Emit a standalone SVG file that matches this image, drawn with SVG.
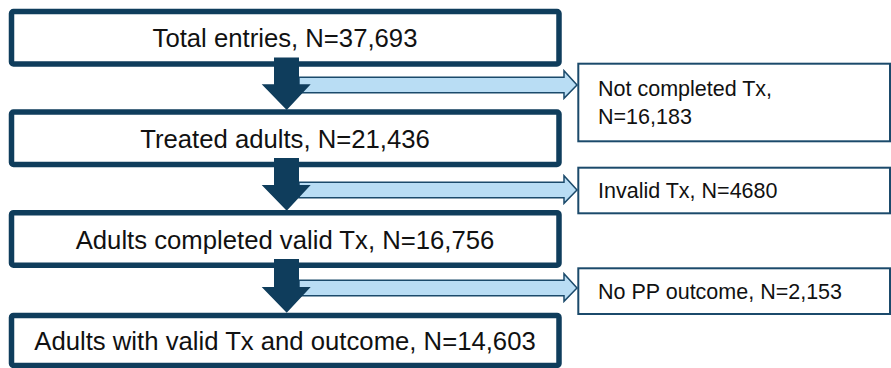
<svg xmlns="http://www.w3.org/2000/svg" width="891" height="368" viewBox="0 0 891 368">
<defs>
<style>
.main{fill:#ffffff;stroke:#0f3d5c;stroke-width:5.5}
.side{fill:#ffffff;stroke:#1b4a6b;stroke-width:2}
.mt{font-family:"Liberation Sans",Arial,sans-serif;font-size:25.7px;fill:#111111;text-anchor:middle}
.st{font-family:"Liberation Sans",Arial,sans-serif;font-size:21.5px;fill:#111111}
.dark{fill:#0f3d5c}
.light{fill:#b9ddf4;stroke:#1b4a6b;stroke-width:1.5;stroke-linejoin:miter}
</style>
</defs>
<g id="box1"><rect class="main" x="11.5" y="11.5" width="547.5" height="52.5" rx="2"/><text class="mt" x="285" y="47">Total entries, N=37,693</text></g>
<g id="box2"><rect class="main" x="11.5" y="112" width="547.5" height="52.5" rx="2"/><text class="mt" x="285" y="148">Treated adults, N=21,436</text></g>
<g id="box3"><rect class="main" x="11.5" y="212.7" width="547.5" height="52.5" rx="2"/><text class="mt" x="285" y="249">Adults completed valid Tx, N=16,756</text></g>
<g id="box4"><rect class="main" x="11.5" y="315.4" width="547.5" height="50" rx="2"/><text class="mt" x="285" y="350">Adults with valid Tx and outcome, N=14,603</text></g>
<g id="side1"><rect class="side" x="578.3" y="63.7" width="311.7" height="77.6"/><text class="st" x="598" y="96">Not completed Tx,</text><text class="st" x="598" y="124">N=16,183</text></g>
<g id="side2"><rect class="side" x="578.3" y="167.7" width="311.7" height="45.6"/><text class="st" x="598" y="198">Invalid Tx, N=4680</text></g>
<g id="side3"><rect class="side" x="578.3" y="268.3" width="311.7" height="45.7"/><text class="st" x="598" y="299">No PP outcome, N=2,153</text></g>
<g id="connectors">
<path class="light" d="M299 77.3 H564 V70.7 L577 85 L564 98.3 V92.7 H299 Z"/>
<path class="dark" d="M274 57.5 H299 V84.3 H310.7 L286.7 110 L261.7 84.3 H274 Z"/>
<path class="light" d="M299 182.3 H564 V175.7 L577 190 L564 203.3 V197.7 H299 Z"/>
<path class="dark" d="M274 158 H299 V185 H310.7 L286.7 210.7 L261.7 185 H274 Z"/>
<path class="light" d="M299 280.3 H564 V273.7 L577 288 L564 301.3 V295.7 H299 Z"/>
<path class="dark" d="M274 259 H299 V287 H310.7 L286.7 312.7 L261.7 287 H274 Z"/>
</g>
</svg>
